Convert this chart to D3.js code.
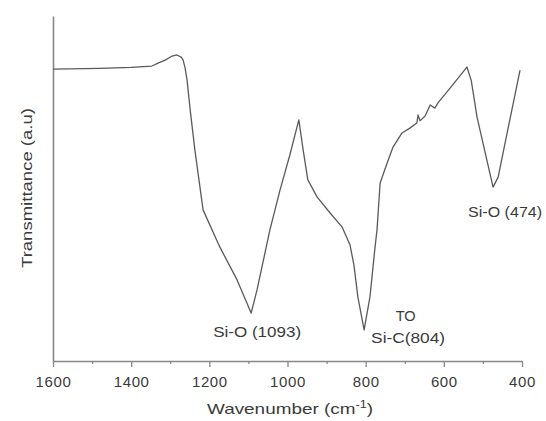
<!DOCTYPE html>
<html>
<head>
<meta charset="utf-8">
<script src="https://cdn.jsdelivr.net/npm/d3@7"></script>
<style>
  html, body { margin: 0; padding: 0; background: #fff; }
  svg { display: block; }
  text { font-family: "Liberation Sans", Arial, sans-serif; fill: #3a3a3a; }
</style>
</head>
<body>
<svg id="chart" width="546" height="421"></svg>
<script>
// Data
const wavenumber = [1600, 1480, 1400, 1347, 1330, 1313, 1295, 1283, 1272, 1267, 1262, 1257, 1249, 1237, 1224, 1216,
  1173, 1129, 1093, 1078, 1045, 1019, 994, 971, 960, 948, 924, 891, 860, 840, 830, 820, 804,
  789, 776, 771, 763, 745, 730, 707, 687, 669, 666, 661, 648, 635, 623, 615, 584, 541, 530, 515, 490, 474, 461, 438, 405];
const transmittance = [84.6, 84.8, 85.1, 85.5, 86.4, 87.2, 88.4, 88.7, 88.1, 87.2, 84.9, 81.4, 72.8, 61.2, 50.4, 43.8,
  33.0, 23.5, 13.9, 20.6, 38.0, 49.6, 59.7, 69.9, 61.2, 52.5, 47.5, 42.9, 38.8, 33.6, 27.8, 18.6, 9.0,
  18.6, 33.0, 38.0, 51.6, 57.4, 62.0, 66.1, 67.5, 69.0, 71.3, 69.6, 71.0, 74.2, 73.3, 74.8, 79.1, 85.2, 81.4, 70.7, 58.3, 50.4, 53.3, 66.1, 84.3];
const majorTicks = [1600, 1400, 1200, 1000, 800, 600, 400];
const minorTicks = [1500, 1300, 1100, 900, 700, 500];
const annotations = [
  { text: "Si-O (1093)", wn: 1093, len: 88 },
  { text: "TO", wn: 800, len: 20 },
  { text: "Si-C(804)", wn: 804, len: 74 },
  { text: "Si-O (474)", wn: 474, len: 74 }
];
const xTitle = "Wavenumber (cm";
const yTitle = "Transmittance (a.u)";

const svg = d3.select("#chart");
const x = d3.scaleLinear().domain([1600, 400]).range([53, 522]);
const y = d3.scaleLinear().domain([0, 100]).range([361, 16]);

// axes
const gx = svg.append("g").attr("transform", "translate(0,361)")
  .call(d3.axisBottom(x).tickValues(majorTicks).tickSize(6).tickSizeOuter(0).tickPadding(9).tickFormat(d3.format("d")));
svg.append("g").attr("transform", "translate(0,361)")
  .call(d3.axisBottom(x).tickValues(minorTicks).tickSize(3).tickSizeOuter(0).tickFormat(""))
  .select(".domain").remove();
const gy = svg.append("g").attr("transform", "translate(53,0)")
  .call(d3.axisLeft(y).tickValues([]).tickSizeOuter(0));

svg.selectAll(".domain").attr("stroke", "#888").attr("stroke-width", 1.6);
svg.selectAll(".tick line").attr("stroke", "#888").attr("stroke-width", 1.3);
gx.selectAll(".tick text")
  .style("font-family", "'Liberation Sans', Arial, sans-serif")
  .style("font-size", "15px")
  .style("letter-spacing", "0.6px")
  .attr("fill", "#3a3a3a");

// spectrum line
const line = d3.line()
  .x((d, i) => x(wavenumber[i]))
  .y((d, i) => y(transmittance[i]));
svg.append("path")
  .datum(wavenumber)
  .attr("d", line)
  .attr("fill", "none")
  .attr("stroke", "#5a5a5a")
  .attr("stroke-width", 1.3)
  .attr("stroke-linejoin", "round");

// annotations
const annoPos = [
  { dx: 6, y: 337 },
  { dx: 40, y: 321 },
  { dx: 44, y: 343 },
  { dx: 12, y: 217 }
];
annotations.forEach((a, i) => {
  svg.append("text")
    .attr("x", x(a.wn) + annoPos[i].dx)
    .attr("y", annoPos[i].y)
    .attr("text-anchor", "middle")
    .attr("textLength", a.len)
    .attr("lengthAdjust", "spacingAndGlyphs")
    .style("font-size", "14px")
    .text(a.text);
});

// axis titles
const xt = svg.append("text")
  .attr("x", 290).attr("y", 414)
  .attr("text-anchor", "middle")
  .attr("textLength", 166)
  .attr("lengthAdjust", "spacingAndGlyphs")
  .style("font-size", "15px");
xt.append("tspan").text(xTitle);
xt.append("tspan").attr("dy", -6).style("font-size", "10px").text("-1");
xt.append("tspan").attr("dy", 6).text(")");

svg.append("text")
  .attr("transform", "translate(32,188) rotate(-90)")
  .attr("text-anchor", "middle")
  .attr("textLength", 160)
  .attr("lengthAdjust", "spacingAndGlyphs")
  .style("font-size", "15px")
  .text(yTitle);
</script>
</body>
</html>
